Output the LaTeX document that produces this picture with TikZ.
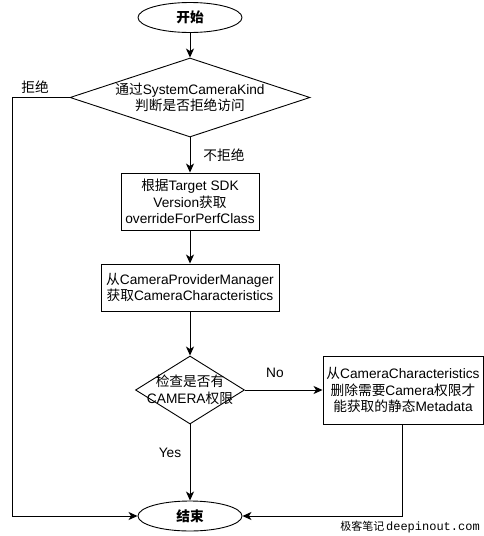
\documentclass[tikz,border=0pt]{standalone}
\usepackage{fontspec}
\setmainfont{Liberation Sans}
\setmonofont{Liberation Mono}
\newfontfamily\cjk{Noto Sans CJK SC}
\newcommand{\zh}[1]{{\cjk #1}}
\usetikzlibrary{shapes.geometric,arrows.meta}

\begin{document}
\begin{tikzpicture}[x=1pt, y=-1pt, line width=0.9pt,
  every node/.style={font=\fontsize{13.7}{16.5}\selectfont},
  terminal/.style={draw, ellipse, minimum width=104pt, minimum height=30pt, inner sep=0pt},
  process/.style={draw, rectangle, align=center, inner sep=1pt},
  decision/.style={draw, diamond, inner sep=0pt},
  flow/.style={-{Stealth[length=9pt,width=8pt,inset=2.5pt]}}
]
\useasboundingbox (0,0) rectangle (483,536);

% the steps of the flow chart
\node[terminal] (start) at (190,17.5) {\textbf{\zh{开始}}};
\node[decision, minimum width=240pt, minimum height=79pt,
  label={[align=center]center:\zh{通过}SystemCameraKind\\\zh{判断是否拒绝访问}}] (check) at (190,97.5) {};
\node[process, minimum width=138pt, minimum height=57pt] (perf) at (190,201.5)
  {\zh{根据}Target SDK\\Version\zh{获取}\\overrideForPerfClass};
\node[process, minimum width=178pt, minimum height=47pt] (chars) at (190,287.5)
  {\zh{从}CameraProviderManager\\\zh{获取}CameraCharacteristics};
\node[decision, minimum width=109pt, minimum height=68pt,
  label={[align=center]center:\zh{检查是否有}\\CAMERA\zh{权限}}] (perm) at (190,390) {};
\node[process, minimum width=160pt, minimum height=68pt] (strip) at (403,390)
  {\zh{从}CameraCharacteristics\\\zh{删除需要}Camera\zh{权限才}\\\zh{能获取的静态}Metadata};
\node[terminal] (stop) at (190,516) {\textbf{\zh{结束}}};

% the corner of the rejected branch
\coordinate (leftrail) at (12,97.5);

%% we draw the connectors
\draw[flow] (start) -- (check);
\draw[flow] (check) -- (perf);
\draw[flow] (perf) -- (chars);
\draw[flow] (chars) -- (perm);
\draw[flow] (perm) -- (strip);
\draw[flow] (perm) -- (stop);
\draw[flow] (check.west) -- (leftrail) |- (stop.west);
\draw[flow] ([xshift=-1pt]strip.south) |- (stop.east);

%% we add some labels
\node (rejectlbl) at (35,87) {\zh{拒绝}};
\node (passlbl) at (224,155) {\zh{不拒绝}};
\node (nolbl) at (275,373) {No};
\node (yeslbl) at (170,453) {Yes};

\node (mark) at (410,527) {\fontsize{11}{11}\selectfont\zh{极客笔记}\,\ttfamily\fontsize{12}{12}\selectfont deepinout.com};

\end{tikzpicture}
\end{document}
